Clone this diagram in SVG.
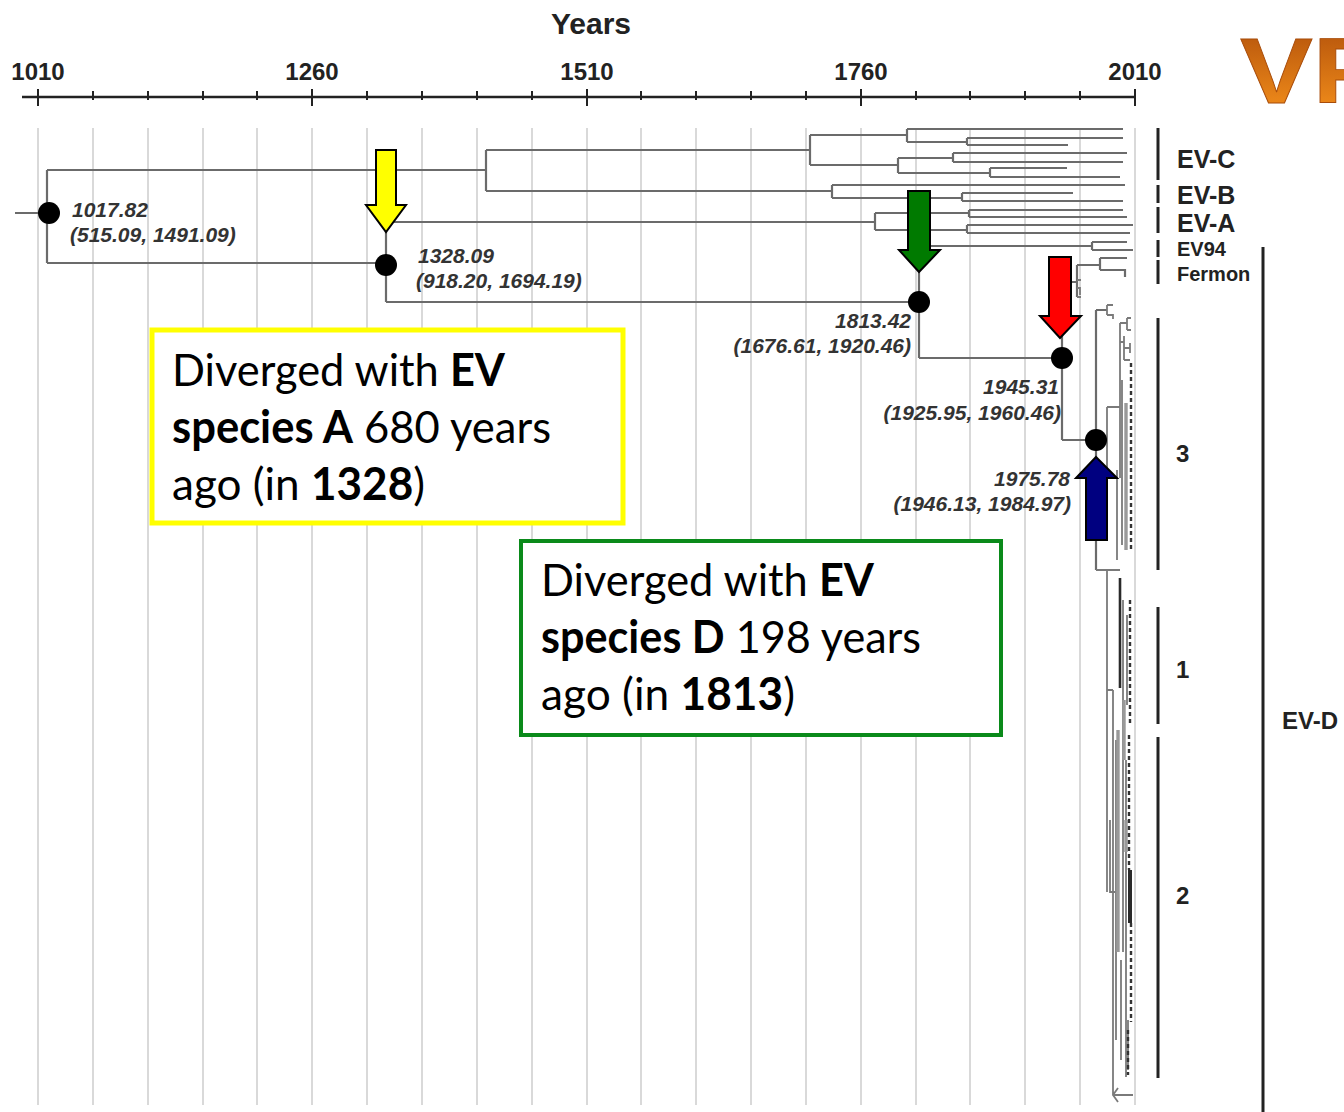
<svg xmlns="http://www.w3.org/2000/svg" width="1344" height="1112" viewBox="0 0 1344 1112">
<defs>
<linearGradient id="vpg" x1="0" y1="0" x2="0" y2="1">
<stop offset="0" stop-color="#b04f0a"/>
<stop offset="1" stop-color="#f8931c"/>
</linearGradient>
<style>
.grid{stroke:#d0d0d0;stroke-width:1.6;fill:none}
.ax{stroke:#222;stroke-width:2.5;fill:none}
.tk{stroke:#222;stroke-width:2;fill:none}
.br{stroke:#6b6b6b;stroke-width:2.2;fill:none}
.lt{stroke:#7a7a7a;stroke-width:1.8;fill:none}
.th{stroke:#999;stroke-width:3.4;fill:none}
.dk{stroke:#2a2a2a;stroke-width:2.6;fill:none}
.ds{stroke:#333;stroke-width:2.4;fill:none;stroke-dasharray:4 3}
.nd{fill:#000}
.nl{font-family:"Liberation Sans",Arial,sans-serif;font-weight:bold;font-style:italic;font-size:21px;fill:#333}
.axl{font-family:"Liberation Sans",Arial,sans-serif;font-weight:bold;font-size:24px;fill:#222;text-anchor:middle}
.cl{font-family:"Liberation Sans",Arial,sans-serif;font-weight:bold;fill:#222}
.bar{stroke:#222;stroke-width:3;fill:none}
.arr{stroke:#000;stroke-width:2;stroke-linejoin:miter}
.bt{font-family:Lato,"Liberation Sans",sans-serif;font-size:45px;fill:#000}
.b{font-weight:bold}
</style>
</defs>
<rect width="1344" height="1112" fill="#fff"/>

<g id="grid">
<path class="grid" d="M38,128V1105M93,128V1105M148,128V1105M203,128V1105M257,128V1105M312,128V1105M367,128V1105M422,128V1105M477,128V1105M532,128V1105M587,128V1105M641,128V1105M696,128V1105M751,128V1105M806,128V1105M861,128V1105M916,128V1105M970,128V1105M1025,128V1105M1080,128V1105M1135,128V1105"/>
</g>

<g id="axis">
<text x="591" y="34" font-family="Liberation Sans, Arial, sans-serif" font-weight="bold" font-size="30" fill="#222" text-anchor="middle">Years</text>
<text class="axl" x="38" y="80">1010</text>
<text class="axl" x="312" y="80">1260</text>
<text class="axl" x="587" y="80">1510</text>
<text class="axl" x="861" y="80">1760</text>
<text class="axl" x="1135" y="80">2010</text>
<path class="ax" d="M22,97H1135"/>
<path class="tk" d="M38,89V106M312,89V106M587,89V106M861,89V106M1135,89V106"/>
<path class="tk" d="M93,91V100M148,91V100M203,91V100M257,91V100M367,91V100M422,91V100M477,91V100M532,91V100M641,91V100M696,91V100M751,91V100M806,91V100M916,91V100M970,91V100M1025,91V100M1080,91V100"/>
</g>

<g id="vp">
<text transform="translate(1240,103) scale(1.2,1.02)" font-family="Liberation Sans, Arial, sans-serif" font-weight="bold" font-size="91" fill="url(#vpg)" stroke="#a84c0a" stroke-width="0.8">VP</text>
</g>

<g id="connectors">
<path class="br" d="M15,213H47M47,170V263M47,170H486M486,150V191"/>
<path class="br" d="M486,150H810M810,135V165M810,135H907M907,129V142M907,129H1123M907,142H967M967,138V145M967,138H1123M967,145H1068M810,165H898M898,158V173M898,158H953M953,153V162M953,153H1127M953,162H1123M898,173H990M990,168V177M990,168H1067M990,177H1120"/>
<path class="br" d="M486,191H832M832,185V198M832,185H1125M832,198H962M962,193V201M962,193H1073M962,201H1123"/>
<path class="br" d="M47,263H386M386,222V302M386,222H875M875,213V230M875,213H969M969,210V217M969,210H1123M969,217H1127M875,230H967M967,225V233M967,225H1133M967,233H1130"/>
<path class="br" d="M386,302H919M919,246V358M919,246H1092M1092,242V250M1092,242H1127M1092,250H1133M919,358H1062"/>
<path class="br" d="M1062,282V440M1062,282H1077M1077,265V297M1077,265H1100M1100,258V270M1100,258H1127M1100,270H1125V277"/>
<path class="lt" d="M1077,280H1081M1077,288H1080V295M1077,297H1081"/>
<path class="br" d="M1062,440H1107M1096,310V570M1096,310H1107"/>
<path class="lt" d="M1107,305V315M1107,305H1113M1107,315H1113V319"/>
<path class="lt" d="M1107,407V478M1107,407H1120M1107,478H1117M1117,470V560M1120,323V478M1120,323H1127M1127,318V330M1127,318H1131M1127,330H1131M1120,342H1124M1124,336V360M1124,348H1130M1130,343V353M1124,360H1130M1122,380V545"/>
<path class="th" d="M1126,403V550"/>
<path class="ds" d="M1131,363V552"/>
<path class="lt" d="M1096,570H1120M1107,570V892M1110,820V892H1115M1107,690H1113M1113,690V1095M1113,1095H1133M1118,1088L1113,1095L1118,1102M1123,600V690M1127,615V705M1123,690V952M1126,760V1077M1116,740V1040M1121,960V1060M1128,1020V1070"/>
<path class="dk" d="M1120,578V688"/>
<path class="th" d="M1118,730V952M1126,820V852M1124,700V760"/>
<path class="ds" d="M1130,600V726M1129,735V870M1131,923V1022M1128,1030V1075"/>
<path class="dk" d="M1130,870V923" style="stroke-width:4"/>
</g>

<g id="node-1017">
<circle class="nd" cx="49" cy="213" r="11"/>
<text class="nl" x="72" y="217">1017.82</text>
<text class="nl" x="70" y="242">(515.09, 1491.09)</text>
</g>
<g id="node-1328">
<circle class="nd" cx="386" cy="265" r="11"/>
<text class="nl" x="418" y="263">1328.09</text>
<text class="nl" x="416" y="288">(918.20, 1694.19)</text>
</g>
<g id="node-1813">
<circle class="nd" cx="919" cy="302" r="11"/>
<text class="nl" x="911" y="328" text-anchor="end">1813.42</text>
<text class="nl" x="911" y="353" text-anchor="end">(1676.61, 1920.46)</text>
</g>
<g id="node-1945">
<circle class="nd" cx="1062" cy="358" r="11"/>
<text class="nl" x="1059" y="394" text-anchor="end">1945.31</text>
<text class="nl" x="1061" y="420" text-anchor="end">(1925.95, 1960.46)</text>
</g>
<g id="node-1975">
<circle class="nd" cx="1096" cy="440" r="11"/>
<text class="nl" x="1070" y="486" text-anchor="end">1975.78</text>
<text class="nl" x="1071" y="511" text-anchor="end">(1946.13, 1984.97)</text>
</g>

<g id="arrows">
<polygon class="arr" fill="#ffff00" points="376,150 396,150 396,205 406,205 386,232 366,205 376,205"/>
<polygon class="arr" fill="#007a00" points="908,191 930,191 930,250 940,250 919,272 899,250 908,250"/>
<polygon class="arr" fill="#ff0000" points="1049,257 1071,257 1071,316 1081,316 1060,338 1040,316 1049,316"/>
<polygon class="arr" fill="#000080" points="1096,457 1117,478 1107,478 1107,540 1086,540 1086,478 1076,478"/>
</g>

<g id="clade-labels">
<path class="bar" d="M1158,128V180M1158,185V203M1158,207V233M1158,240V257M1158,260V284M1158,318V570M1158,607V724M1158,737V1078M1263,247V1112"/>
<text class="cl" x="1177" y="168" font-size="25">EV-C</text>
<text class="cl" x="1177" y="204" font-size="25">EV-B</text>
<text class="cl" x="1177" y="232" font-size="25">EV-A</text>
<text class="cl" x="1177" y="256" font-size="20">EV94</text>
<text class="cl" x="1177" y="281" font-size="20">Fermon</text>
<text class="cl" x="1176" y="462" font-size="24">3</text>
<text class="cl" x="1176" y="678" font-size="24">1</text>
<text class="cl" x="1176" y="904" font-size="24">2</text>
<text class="cl" x="1282" y="729" font-size="24">EV-D</text>
</g>

<g id="box-A">
<rect x="152" y="330" width="471" height="193" fill="#fff" stroke="#ffff00" stroke-width="5"/>
<text class="bt" x="172" y="386" textLength="333" lengthAdjust="spacingAndGlyphs">Diverged with <tspan class="b">EV</tspan></text>
<text class="bt" x="172" y="443" textLength="379" lengthAdjust="spacingAndGlyphs"><tspan class="b">species A</tspan> 680 years</text>
<text class="bt" x="172" y="500" textLength="253" lengthAdjust="spacingAndGlyphs">ago (in <tspan class="b">1328</tspan>)</text>
</g>
<g id="box-D">
<rect x="521" y="541" width="480" height="194" fill="#fff" stroke="#0a8a1a" stroke-width="4"/>
<text class="bt" x="541" y="596" textLength="333" lengthAdjust="spacingAndGlyphs">Diverged with <tspan class="b">EV</tspan></text>
<text class="bt" x="541" y="653" textLength="380" lengthAdjust="spacingAndGlyphs"><tspan class="b">species D</tspan> 198 years</text>
<text class="bt" x="541" y="710" textLength="254" lengthAdjust="spacingAndGlyphs">ago (in <tspan class="b">1813</tspan>)</text>
</g>
</svg>
